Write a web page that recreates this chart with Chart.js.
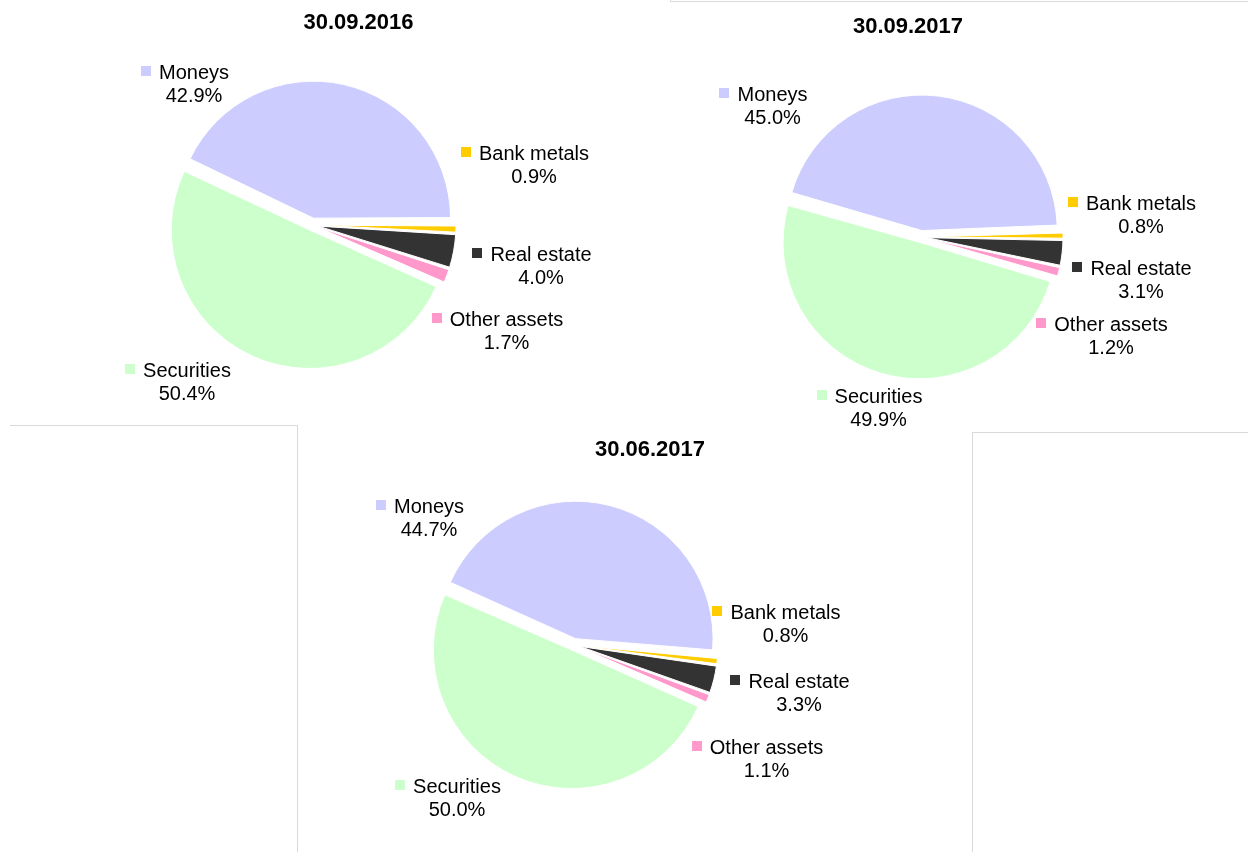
<!DOCTYPE html>
<html><head><meta charset="utf-8">
<script src="https://cdn.jsdelivr.net/npm/chart.js@4.4.1/dist/chart.umd.min.js"></script>
<style>
html,body{margin:0;padding:0;background:#fff;width:1248px;height:852px;overflow:hidden;}
canvas{position:absolute;left:0;top:0;}
.ln{position:absolute;background:#d9d9d9;}
</style></head><body>
<div class="ln" style="left:10px;top:425px;width:288px;height:1px"></div>
<div class="ln" style="left:297px;top:425px;width:1px;height:427px"></div>
<div class="ln" style="left:670px;top:0px;width:1px;height:2px"></div>
<div class="ln" style="left:670px;top:1px;width:578px;height:1px"></div>
<div class="ln" style="left:972px;top:432px;width:276px;height:1px"></div>
<div class="ln" style="left:972px;top:432px;width:1px;height:420px"></div>
<canvas id="c1" width="1248" height="852"></canvas>
<canvas id="c2" width="1248" height="852"></canvas>
<canvas id="c3" width="1248" height="852"></canvas>
<script>
// ---- data ----
const categories = ['Bank metals', 'Real estate', 'Other assets', 'Securities', 'Moneys'];
const values_30_09_2016 = [0.9, 4.0, 1.7, 50.4, 42.9];
const values_30_09_2017 = [0.8, 3.1, 1.2, 49.9, 45.0];
const values_30_06_2017 = [0.8, 3.3, 1.1, 50.0, 44.7];
const chartTitles = ['30.09.2016', '30.09.2017', '30.06.2017'];

// ---- styles ----
const sliceColors = ['#FFCC00', '#333333', '#FF99CC', '#CCFFCC', '#CCCCFF'];
const W = 1248, H = 852;
const EXPLODE_PX = 11; // wanted visual separation of each slice from the centre

// Chart.js translates an arc by offset/4 * (2 - sin(min(PI, circumference))),
// so pick the offset that gives the same visual explosion for every slice.
function explodeOffset(ctx) {
  const data = ctx.dataset.data;
  const total = data.reduce((a, b) => a + b, 0);
  const circ = data[ctx.dataIndex] / total * Math.PI * 2;
  return 4 * EXPLODE_PX / (2 - Math.sin(Math.min(Math.PI, circ)));
}

const pieLabelPlugin = {
  id: 'pieLabels',
  afterDatasetsDraw(chart, args, opts) {
    const meta = chart.getDatasetMeta(0);
    const arc0 = meta.data[0];
    const cx = arc0.x, cy = arc0.y;
    const ctx = chart.ctx;
    ctx.save();
    ctx.fillStyle = '#000';
    ctx.textAlign = 'center';
    ctx.textBaseline = 'alphabetic';
    ctx.font = 'bold 22px "Liberation Sans", Arial, sans-serif';
    ctx.fillText(opts.title, cx + opts.titlePos[0], cy + opts.titlePos[1] + 8);
    ctx.font = '20px "Liberation Sans", Arial, sans-serif';
    const ds = chart.data.datasets[0];
    chart.data.labels.forEach((lab, i) => {
      const p = opts.positions[i];
      const x = cx + p[0];
      const y1 = cy + p[1] - 11.5, y2 = cy + p[1] + 11.5;
      const pct = ds.data[i].toFixed(1) + '%';
      ctx.fillStyle = '#000';
      ctx.fillText(lab, x, y1 + 7);
      ctx.fillText(pct, x, y2 + 7);
      const w = ctx.measureText(lab).width;
      ctx.fillStyle = ds.backgroundColor[i];
      ctx.fillRect(Math.round(x - w / 2 - 8 - 10), Math.round(y1 - 6), 10, 10);
    });
    ctx.restore();
  }
};

function makePie(id, title, values, center, radius, rotation, positions, titlePos) {
  const S = 2 * radius + 60;
  return new Chart(document.getElementById(id), {
    type: 'pie',
    data: {
      labels: categories,
      datasets: [{
        data: values,
        backgroundColor: sliceColors,
        borderColor: '#ffffff',
        borderWidth: 1,
        offset: explodeOffset,
        radius: radius,
        rotation: rotation
      }]
    },
    options: {
      responsive: false,
      animation: false,
      devicePixelRatio: 1,
      events: [],
      layout: { padding: {
        left: center[0] - S / 2, top: center[1] - S / 2,
        right: W - center[0] - S / 2, bottom: H - center[1] - S / 2 } },
      plugins: {
        legend: { display: false },
        tooltip: { enabled: false },
        pieLabels: { title: title, positions: positions, titlePos: titlePos }
      }
    },
    plugins: [pieLabelPlugin]
  });
}

makePie('c1', chartTitles[0], values_30_09_2016, [312, 225], 133, 90,
  [[222, -60.5], [229, 40.5], [194.5, 105.5], [-125, 156.5], [-118, -141.5]], [46.5, -204]);
makePie('c2', chartTitles[1], values_30_09_2017, [921, 237], 131, 88,
  [[220, -23], [220, 42.5], [190, 98], [-42.5, 170.5], [-148.5, -132]], [-13, -212]);
makePie('c3', chartTitles[2], values_30_06_2017, [574, 645], 133, 95,
  [[211.5, -22], [225, 47], [192.5, 113.5], [-117, 152.5], [-145, -128]], [76, -197]);
</script>
</body></html>
